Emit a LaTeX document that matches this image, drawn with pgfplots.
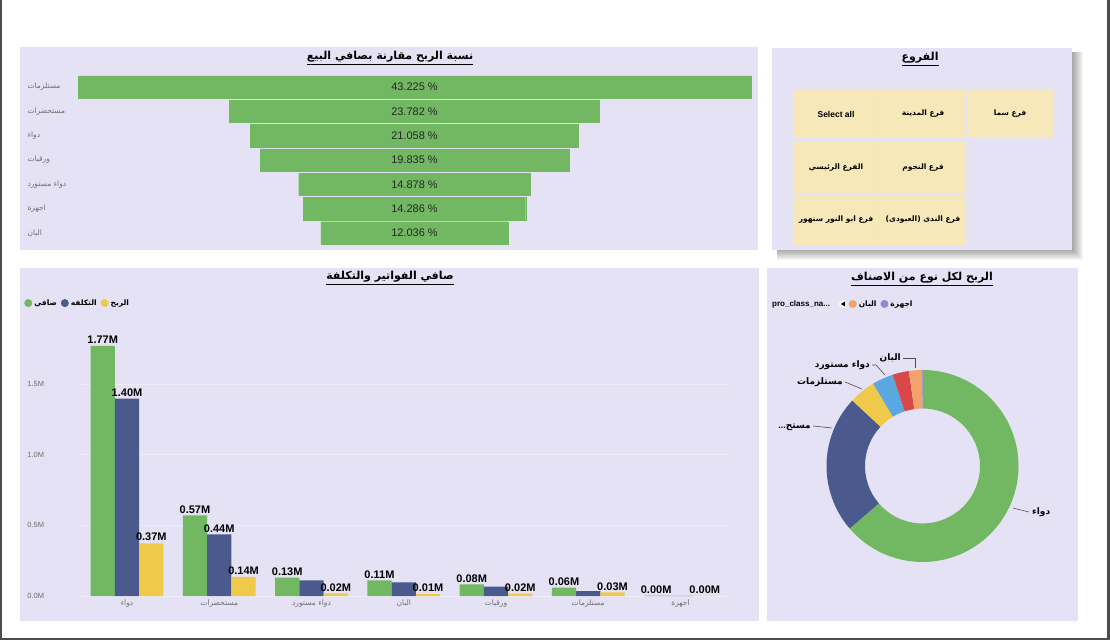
\documentclass[border=0pt]{standalone}
\usepackage{fontspec}
\setmainfont{Liberation Sans}
\newfontfamily\ar[Script=Arabic]{DejaVu Sans}
\TeXXeTstate=1
\usepackage{pgfplots}
\usepackage{pgfplotstable}
\pgfplotsset{compat=1.18}

\definecolor{panel}{HTML}{E6E2F5}
\definecolor{pgreen}{HTML}{72B762}
\definecolor{pnavy}{HTML}{4A5A8C}
\definecolor{pyellow}{HTML}{EEC94A}
\definecolor{pblue}{HTML}{5BA7DF}
\definecolor{pred}{HTML}{D94848}
\definecolor{porange}{HTML}{F2A36C}
\definecolor{ppurple}{HTML}{9C82D4}
\definecolor{tile}{HTML}{F6E8B8}
\definecolor{tickgray}{HTML}{6E6E6E}

% funnel: pos 6 = top row
\pgfplotstableread{
pos v
6 43.225
5 23.782
4 21.058
3 19.835
2 14.878
1 14.286
0 12.036
}\funnel

\pgfplotstableread{
x net cost profit
0 1.770 1.397 0.373
1 0.570 0.436 0.136
2 0.130 0.111 0.019
3 0.110 0.097 0.013
4 0.082 0.066 0.016
5 0.060 0.034 0.026
6 0.002 0.0017 0.0003
}\bars

\pgfplotstableread{
v
0.373
0.136
0.026
0.021
0.016
0.013
0.0004
}\donut

\begin{document}
\begin{tikzpicture}[x=1pt,y=1pt]
\fill[white] (0,0) rectangle (1110,640);
\fill[black!70] (0,0) rectangle (2,640);
\fill[black!70] (1107,0) rectangle (1110,640);
\fill[black!70] (0,0) rectangle (1110,2);
% panels
\fill[panel] (20,390) rectangle (758,593);
\foreach \k in {1,...,11}{\fill[black,opacity=0.035] (777,391-\k) rectangle (1072+\k,588);}
\fill[panel] (772,390) rectangle (1072,592);
\fill[panel] (20,19) rectangle (759,372);
\fill[panel] (767,19) rectangle (1078,372);
% slicer tiles
\foreach \x/\y/\h in {793/502/48, 880/502/48, 967/502/48, 793/447/51, 880/447/51, 793/395/50, 880/395/50}{\fill[tile] (\x,\y) rectangle ++(86,\h);}
\begin{scope}[every node/.style={font=\fontsize{7.5}{9}\selectfont\bfseries}]
\node at (836,526) {\fontsize{8.5}{10}\selectfont Select all};
\node at (923,526) {{\ar\beginR فرع المدينة\endR}};
\node at (1010,526) {{\ar\beginR فرع سما\endR}};
\node at (836,472) {{\ar\beginR الفرع الرئيسي\endR}};
\node at (923,472) {{\ar\beginR فرع النجوم\endR}};
\node at (836,420) {{\ar\beginR فرع ابو النور سنهور\endR}};
\node at (923,420) {{\ar\beginR فرع الندى (العبودى)\endR}};
\end{scope}
% titles
\begin{scope}[every node/.style={font=\fontsize{11}{13}\selectfont\bfseries}]
\node at (390,582) {\underline{{\ar\beginR نسبة الربح مقارنة بصافي البيع\endR}}};
\node at (920,581) {\underline{{\ar\beginR الفروع\endR}}};
\node at (390,362) {\underline{{\ar\beginR صافي الفواتير والتكلفة\endR}}};
\node at (922,361) {\underline{{\ar\beginR الربح لكل نوع من الاصناف\endR}}};
\end{scope}

% funnel
\begin{axis}[at={(414.5pt,407pt)}, anchor=origin, scale only axis,
  width=673pt, height=170.3pt,
  xmin=-21.6125, xmax=21.6125, ymin=-0.5, ymax=6.5,
  axis line style={draw=none}, major tick length=0pt, xtick=\empty,
  ytick={0,...,6},
  yticklabels={{\ar\beginR البان\endR},{\ar\beginR اجهزة\endR},{\ar\beginR دواء مستورد\endR},{\ar\beginR ورقيات\endR},{\ar\beginR دواء\endR},{\ar\beginR مستحضرات\endR},{\ar\beginR مستلزمات\endR}},
  yticklabel style={anchor=west, xshift=-54pt, font=\fontsize{7.5}{9}\selectfont, text=tickgray},
  /pgf/number format/assume math mode=true,
  clip=false]
\addplot[xbar, bar width=22.5pt, bar shift=0pt, fill=pgreen, draw=pgreen, line width=0.3pt] table[x expr=\thisrow{v}/2, y=pos]{\funnel};
\addplot[xbar, bar width=22.5pt, bar shift=0pt, fill=pgreen, draw=pgreen, line width=0.3pt] table[x expr=-\thisrow{v}/2, y=pos]{\funnel};
\addplot[draw=none, mark=none, point meta=explicit,
  nodes near coords={\pgfmathprintnumber[fixed,fixed zerofill,precision=3]{\pgfplotspointmeta}~\%},
  every node near coord/.append style={anchor=center, font=\fontsize{11}{12}\selectfont, text=black!85}]
  table[x expr=0, y=pos, meta=v]{\funnel};
\end{axis}

% bars
\begin{axis}[at={(127pt,44pt)}, anchor=origin, scale only axis,
  width=645.7pt, height=268.5pt,
  xmin=-0.5, xmax=6.5, ymin=0, ymax=1.9,
  axis line style={draw=none}, major tick length=0pt,
  xtick={0,...,6},
  xticklabels={{\ar\beginR دواء\endR},{\ar\beginR مستحضرات\endR},{\ar\beginR دواء مستورد\endR},{\ar\beginR البان\endR},{\ar\beginR ورقيات\endR},{\ar\beginR مستلزمات\endR},{\ar\beginR اجهزة\endR}},
  xticklabel style={font=\fontsize{7.5}{9}\selectfont, text=tickgray},
  ytick={0,0.5,1,1.5}, yticklabels={0.0M,0.5M,1.0M,1.5M},
  yticklabel style={anchor=west, xshift=-57pt, font=\fontsize{7.5}{9}\selectfont, text=tickgray},
  ymajorgrids, grid style={white, opacity=0.35, line width=0.5pt},
  /pgf/number format/assume math mode=true,
  every node near coord/.append style={font=\fontsize{11}{12}\selectfont\bfseries, text=black, inner sep=2pt},
  legend style={at={(-0.088,1.091)}, anchor=west, draw=none, fill=none, legend columns=-1,
    font=\fontsize{7.5}{9}\selectfont\bfseries, inner sep=0pt,
    /tikz/every even column/.append style={column sep=2pt}},
  legend image code/.code={\fill[#1,draw=none] (3pt,0pt) circle (4pt);},
  clip=false]
\addplot[ybar, bar width=24.3pt, bar shift=-24.3pt, fill=pgreen, draw=none,
  nodes near coords={\pgfmathprintnumber[fixed,fixed zerofill,precision=2]{\pgfplotspointmeta}M},
  every node near coord/.append style={xshift=-24.3pt}]
  table[x=x, y=net]{\bars};
\addlegendentry{{\ar\beginR صافي\endR}}
\addplot[ybar, bar width=24.3pt, bar shift=0pt, fill=pnavy, draw=none]
  table[x=x, y=cost]{\bars};
\addlegendentry{{\ar\beginR التكلفه\endR}}
\addplot[ybar, bar width=24.3pt, bar shift=24.3pt, fill=pyellow, draw=none,
  nodes near coords={\pgfmathprintnumber[fixed,fixed zerofill,precision=2]{\pgfplotspointmeta}M},
  every node near coord/.append style={xshift=24.3pt}]
  table[x=x, y=profit]{\bars};
\addlegendentry{{\ar\beginR الربح\endR}}
\addplot[ybar, bar width=24.3pt, bar shift=0pt, fill=none, draw=none, forget plot,
  nodes near coords={\pgfmathprintnumber[fixed,fixed zerofill,precision=2]{\pgfplotspointmeta}M}]
  coordinates {(0,1.397) (1,0.436)};
\end{axis}

% donut
\begin{axis}[at={(922.5pt,174pt)}, anchor=origin, scale only axis,
  width=192pt, height=192pt, xmin=-1, xmax=1, ymin=-1, ymax=1,
  hide axis, clip=false,
  legend style={at={(0.115,1.344)}, anchor=west, draw=none, fill=none, legend columns=-1,
    font=\fontsize{7.5}{9}\selectfont\bfseries, inner sep=0pt,
    /tikz/every even column/.append style={column sep=2pt}},
  legend image code/.code={\fill[#1] (3pt,0pt) circle (4pt);}]
\addlegendimage{fill=porange, draw=none}
\addlegendentry{{\ar\beginR البان\endR}}
\addlegendimage{fill=ppurple, draw=none}
\addlegendentry{{\ar\beginR اجهزة\endR}}
\pgfplotsextra{%
  \gdef\tot{0}%
  \foreach \i in {0,...,6}{%
    \pgfplotstablegetelem{\i}{v}\of\donut
    \pgfmathsetmacro\tmp{\tot+\pgfplotsretval}%
    \xdef\tot{\tmp}}%
  \gdef\start{90}%
  \foreach \i/\c in {0/pgreen,1/pnavy,2/pyellow,3/pblue,4/pred,5/porange,6/ppurple}{%
    \pgfplotstablegetelem{\i}{v}\of\donut
    \pgfmathsetmacro\stop{\start-360*\pgfplotsretval/\tot}%
    \fill[\c] ([shift={(\start:96pt)}]axis cs:0,0) arc[start angle=\start, end angle=\stop, radius=96pt]
      -- ([shift={(\stop:57.5pt)}]axis cs:0,0) arc[start angle=\stop, end angle=\start, radius=57.5pt] -- cycle;
    \xdef\start{\stop}}%
}
\end{axis}

% donut legend title and arrow
\node[anchor=west, font=\fontsize{8}{9}\selectfont\bfseries, inner sep=0pt] at (772,336) {pro\_class\_na...};
\fill[white] (843,336) circle (4pt);
\fill[black] (845,333.5) -- (845,338.5) -- (841,336) -- cycle;
% donut leader lines and labels
\begin{scope}[black!70, line width=0.6pt]
\draw (1013,132) -- (1029,128);
\draw (813,214) -- (832,212);
\draw (845,258) -- (862,251);
\draw (872,275) -- (876,275) -- (885,265);
\draw (903,282) -- (915,282) -- (915,272);
\end{scope}
\begin{scope}[every node/.style={font=\fontsize{9}{10}\selectfont\bfseries, inner sep=0pt}]
\node[anchor=west] at (1032,128) {{\ar\beginR دواء\endR}};
\node[anchor=east] at (811,213) {...{\ar\beginR مستح\endR}};
\node[anchor=east] at (843,258) {{\ar\beginR مستلزمات\endR}};
\node[anchor=east] at (870,275) {{\ar\beginR دواء مستورد\endR}};
\node[anchor=east] at (901,282) {{\ar\beginR البان\endR}};
\end{scope}
\end{tikzpicture}
\end{document}
